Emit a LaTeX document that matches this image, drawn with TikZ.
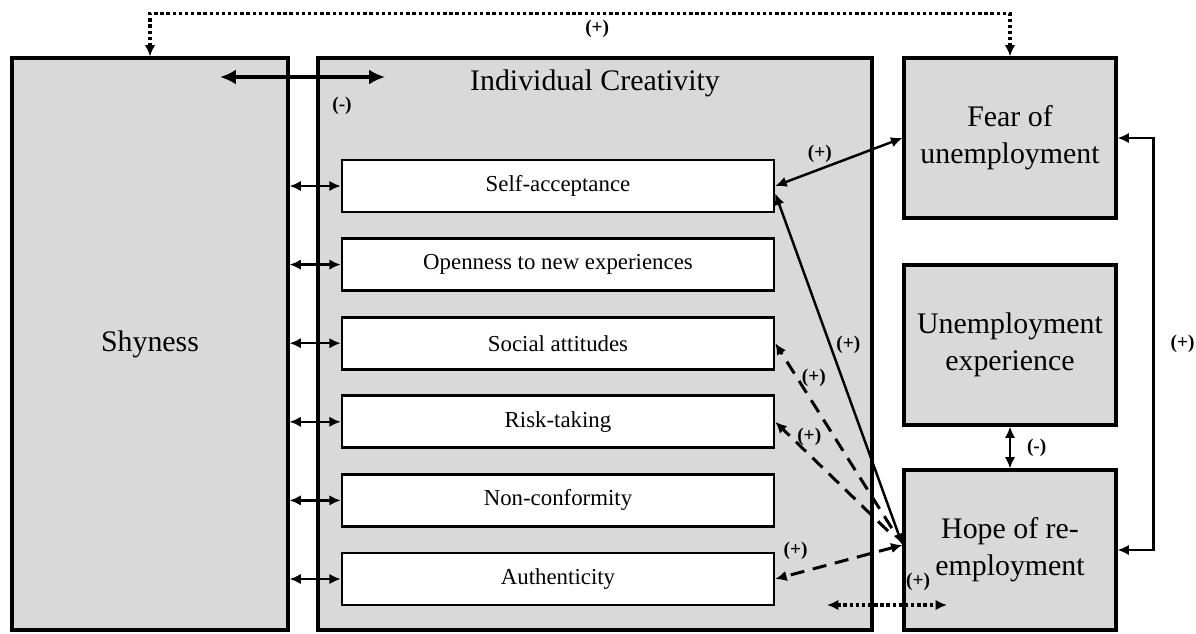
\documentclass[tikz,border=0pt]{standalone}
\usepackage{fontspec}
\setmainfont{Liberation Serif}
\usetikzlibrary{arrows.meta}
\definecolor{boxgray}{RGB}{217,217,217}

\tikzset{
  bigbox/.style={draw, line width=1.8pt, fill=boxgray, inner sep=0pt, align=center,
    font=\fontsize{17}{21}\selectfont},
  facet/.style={draw, line width=1.5pt, fill=white, minimum width=8.64cm,
    minimum height=1.04cm, inner sep=0pt, font=\fontsize{13}{15}\selectfont},
  sign/.style={inner sep=1pt, font=\fontsize{11}{13}\selectfont\bfseries},
  link/.style={line width=1.4pt, >={Latex[length=6.5pt,width=6pt]}},
  dashlink/.style={link, line width=1.7pt, dash pattern=on 8pt off 5pt},
  dotlink/.style={link, line width=1.9pt, dash pattern=on 1.9pt off 1.6pt},
}

\begin{document}
\begin{tikzpicture}[x=0.02cm, y=-0.02cm]

\def\facetstep{78.6}
\def\hopeshift{0.1cm}

\useasboundingbox (0,0) rectangle (1196,633);

% main boxes
\node[bigbox, minimum width=5.52cm, minimum height=11.44cm] (shy) at (150,344) {Shyness};
\node[bigbox, minimum width=11.08cm, minimum height=11.44cm] (ic) at (595,344) {};
\node[font=\fontsize{17}{21}\selectfont] (ictitle) at (595,83) {Individual Creativity};

\node[bigbox, minimum width=4.24cm, minimum height=3.2cm] (fear) at (1010,138) {Fear of\\unemployment};
\node[bigbox, minimum width=4.24cm, minimum height=3.2cm] (uexp) at (1010,345) {Unemployment\\experience};
\node[bigbox, minimum width=4.24cm, minimum height=3.2cm] (hope) at (1010,550) {Hope of re-\\employment};

% facets of creativity
\foreach \name/\txt [count=\i from 0] in {sa/Self-acceptance, op/Openness to new experiences,
  so/Social attitudes, ri/Risk-taking, nc/Non-conformity, au/Authenticity}
{
\node[facet] (\name) at (558,186+\facetstep*\i) {\txt};
\draw[link,<->] (shy.east |- \name.west) -- (\name.west);
}

% shyness vs fear
\draw[dotlink,<->] (shy.north) -- ++(0,-43) -| (fear.north) node[sign, pos=0.26, below=2pt] (topsign) {(+)};

% shyness vs creativity
\coordinate (negL) at (220,77);
\coordinate (negR) at (385,77);
\draw[link, line width=2.4pt, <->, >={Latex[length=9pt,width=8.5pt]}] (negL) -- (negR);
\node[sign] (negsign) at (342,106) {(-)};

% fear and self-acceptance
\draw[link,<->] (sa.east) -- (fear.west) node[sign, pos=0.35, above=2pt] (fearsign) {(+)};

% hope and the facets
\coordinate (hp) at ([yshift=\hopeshift]hope.west);
\draw[link,<->] ([yshift=-0.15cm]sa.east) -- (hp) node[sign, pos=0.43, right=2pt] (sasign) {(+)};
\draw[dashlink,->,shorten <=0.4cm] (hp) -- (so.east) node[sign, pos=0.83, right=1pt] (sosign) {(+)};
\draw[dashlink,->,shorten <=0.4cm] (hp) -- (ri.east) node[sign, pos=0.88, right=2pt] (risign) {(+)};
\draw[dashlink,<->] (hp) -- (au.east) node[sign, pos=0.84, above=6pt] (ausign) {(+)};

% experience and hope
\draw[link,<->] (uexp.south) -- (hope.north) node[sign, midway, right=8pt] (uexpsign) {(-)};

% fear and hope
\draw[link,<->] (fear.east) -- ++(36,0) |- (hope.east) node[sign, pos=0.25, right=8pt] (loopsign) {(+)};

% bottom dotted link
\coordinate (dotL) at (827,605);
\coordinate (dotR) at (947,605);
\draw[dotlink,<->] (dotL) -- (dotR);
\node[sign] (botsign) at (918,582) {(+)};

\end{tikzpicture}
\end{document}
